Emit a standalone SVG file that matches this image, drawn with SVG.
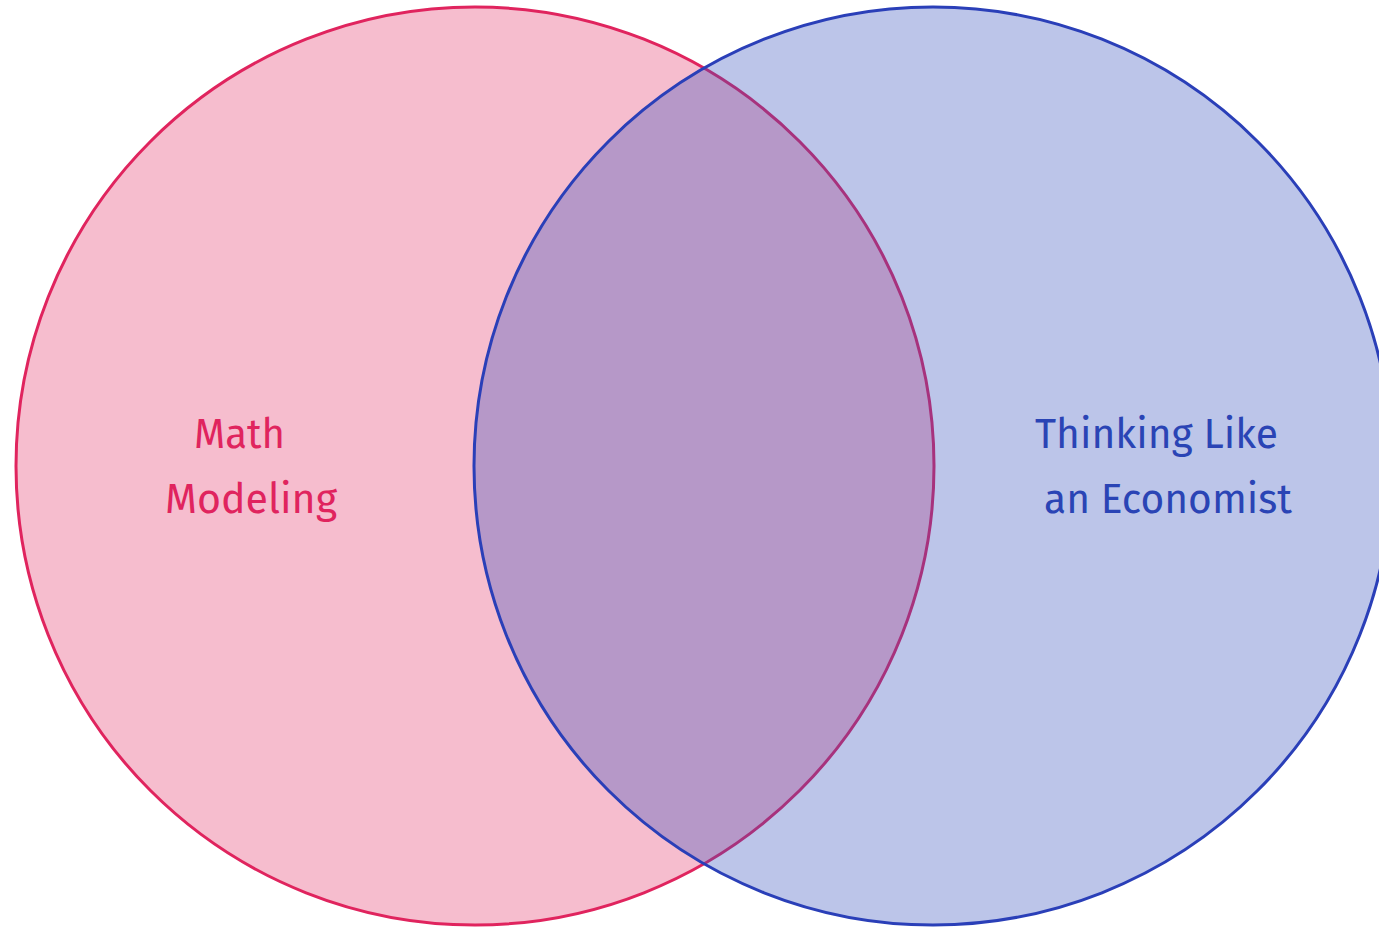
<svg xmlns="http://www.w3.org/2000/svg" width="1379" height="927" viewBox="0 0 1379 927">
<style>
.lbl{font-family:"Fira Sans","Open Sans","Noto Sans",sans-serif;font-size:42px}
.pink{fill:#e0245e}
.blue{fill:#2a44b5}
</style>
<rect width="1379" height="927" fill="#ffffff"/>
<g id="math-modeling">
<circle cx="475" cy="466" r="459" fill="#e0245e" fill-opacity="0.3" stroke="#e0245e" stroke-width="3"/>
</g>
<g id="thinking-like-an-economist">
<circle cx="933" cy="466" r="459" fill="#3450bc" fill-opacity="0.33" stroke="#2a3fb8" stroke-width="3"/>
</g>
<g id="labels">
<text class="lbl pink" x="194" y="448" textLength="91" lengthAdjust="spacingAndGlyphs">Math</text>
<text class="lbl pink" x="165" y="513" textLength="172" lengthAdjust="spacingAndGlyphs">Modeling</text>
<text class="lbl blue" x="1035" y="448" textLength="243" lengthAdjust="spacingAndGlyphs">Thinking Like</text>
<text class="lbl blue" x="1044" y="513" textLength="248" lengthAdjust="spacingAndGlyphs">an Economist</text>
</g>
</svg>
